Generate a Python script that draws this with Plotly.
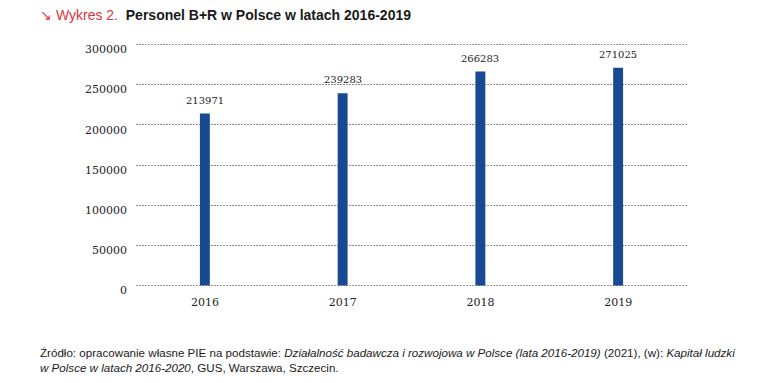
import plotly.graph_objects as go

years = ["2016", "2017", "2018", "2019"]
values = [213971, 239283, 266283, 271025]
y_ticks = [0, 50000, 100000, 150000, 200000, 250000, 300000]

fig = go.Figure()
fig.add_trace(go.Bar(
    x=years, y=values,
    marker=dict(color="#174a93", line=dict(width=0)),
    width=0.072,
    cliponaxis=False,
))

for i, v in enumerate(values):
    fig.add_annotation(x=i, y=v, text=str(v), showarrow=False, yanchor="bottom", yshift=6,
                       font=dict(family="DejaVu Serif, serif", size=10, color="#222"))

# gridlines at the range edges (0 and 300000)
for t in (y_ticks[0], y_ticks[-1]):
    fig.add_shape(type="line", xref="paper", yref="y", x0=0, x1=1, y0=t, y1=t,
                  line=dict(color="#8c8c8c", width=1, dash="2px,1px"), layer="below")

fig.update_layout(
    width=762, height=383,
    margin=dict(l=128, r=83, t=36, b=105),
    plot_bgcolor="white", paper_bgcolor="white",
    showlegend=False,
    font=dict(family="DejaVu Serif, serif", size=11, color="#222"),
    xaxis=dict(type="category", range=[-0.5, 3.5], showgrid=False, showline=False, ticks="",
               tickfont=dict(size=11, color="#222"), ticklabelstandoff=8),
    yaxis=dict(range=[-500, 300500], tickvals=y_ticks, ticktext=[str(t) for t in y_ticks],
               showgrid=True, gridcolor="#8c8c8c", griddash="2px,1px", gridwidth=1,
               zeroline=False, showline=False, ticks="",
               tickfont=dict(size=11, color="#222"), ticklabelstandoff=8,
               ticklabelshift=5),
)

fig.add_annotation(xref="paper", yref="paper", x=-0.178, y=1.0, yshift=29, xanchor="left", yanchor="middle",
                   showarrow=False,
                   text="<span style='color:#e0343c'>↘ Wykres 2.</span>  <b>Personel B+R w Polsce w latach 2016-2019</b>",
                   font=dict(family="Liberation Sans, sans-serif", size=14, color="#1a1a1a"))

fig.add_annotation(xref="paper", yref="paper", x=-0.178, y=0, yshift=-58, xanchor="left", yanchor="top",
                   showarrow=False, align="left",
                   text="Źródło: opracowanie własne PIE na podstawie: <i>Działalność badawcza i rozwojowa w Polsce (lata 2016-2019)</i> (2021), (w): <i>Kapitał ludzki</i><br><i>w Polsce w latach 2016-2020</i>, GUS, Warszawa, Szczecin.",
                   font=dict(family="Liberation Sans, sans-serif", size=11.6, color="#1a1a1a"))

fig.write_html("out.html")
